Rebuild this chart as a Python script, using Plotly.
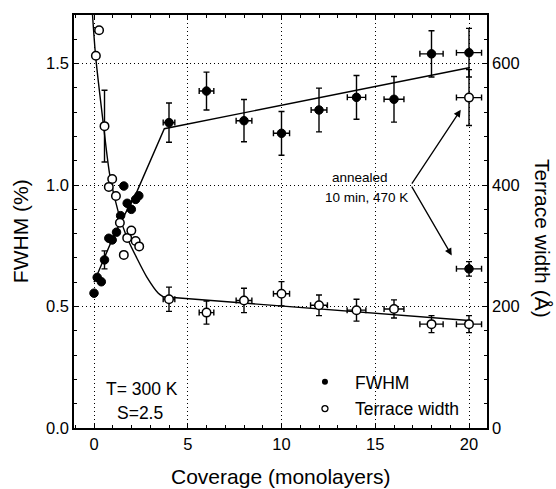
import plotly.graph_objects as go

# ---------------- data ----------------
# FWHM (%) vs coverage (monolayers), as grown at 300 K
fwhm_x = [0.0, 0.17, 0.39, 0.56, 0.79, 0.97, 1.2, 1.42, 1.59, 1.77, 1.99, 2.22, 2.39,
          4.0, 6.0, 8.0, 10.0, 12.0, 14.0, 16.0, 18.0, 20.0]
fwhm_y = [0.555, 0.620, 0.602, 0.692, 0.781, 0.774, 0.806, 0.874, 0.996, 0.925, 0.900, 0.941, 0.956,
          1.257, 1.387, 1.265, 1.213, 1.309, 1.361, 1.353, 1.540, 1.545]
fwhm_yerr = [0, 0, 0, 0.037, 0, 0, 0, 0, 0, 0, 0, 0, 0,
             0.081, 0.078, 0.087, 0.090, 0.090, 0.090, 0.094, 0.095, 0.100]
fwhm_xerr = [0, 0, 0, 0, 0, 0, 0, 0, 0, 0, 0, 0, 0,
             0.31, 0.39, 0.42, 0.43, 0.42, 0.49, 0.53, 0.62, 0.67]

# Terrace width (Angstrom) vs coverage
terr_x = [0.27, 0.1, 0.56, 0.97, 0.79, 1.17, 1.38, 1.59, 1.77, 1.99, 2.22, 2.41,
          4.0, 6.0, 8.0, 10.0, 12.0, 14.0, 16.0, 18.0, 20.0]
terr_y = [655, 613, 497, 410, 397, 382, 338, 285, 313, 325, 308, 299,
          212, 190, 210, 221, 202, 194, 196, 171, 171]
terr_yerr = [0, 0, 59, 0, 0, 0, 0, 0, 0, 0, 0, 0,
             20, 19, 20, 20, 17, 18, 15, 14, 14]
terr_xerr = [0, 0, 0, 0, 0, 0, 0, 0, 0, 0, 0, 0,
             0.31, 0.39, 0.42, 0.43, 0.45, 0.50, 0.53, 0.62, 0.67]

# after annealing 10 min at 470 K (20 ML)
ann_x = [20.0]
ann_fwhm = [0.655]
ann_fwhm_err = [0.03]
ann_terr = [544]
ann_terr_err = [46]
ann_xerr = [0.67]

# guide-to-the-eye curves
fwhm_fit_x = [0.0, 1.1, 2.3, 3.75, 20.0]
fwhm_fit_y = [0.60, 0.80, 0.975, 1.232, 1.483]
terr_curve_x = [-0.1, 0.09, 0.5, 0.85, 1.3, 1.74, 2.28, 2.81, 3.43, 3.7]
terr_curve_y = [690, 611, 500, 415, 355, 315, 280, 249, 222, 216]
terr_line_x = [3.7, 20.0]
terr_line_y = [216, 177]

# axis ticks
x_ticks = [0, 5, 10, 15, 20]
y_ticks = [0.0, 0.5, 1.0, 1.5]
y2_ticks = [0, 200, 400, 600]

FONT = "Liberation Sans, Arial, sans-serif"
BLACK = "black"

fig = go.Figure()

# fitted lines
fig.add_trace(go.Scatter(x=fwhm_fit_x, y=fwhm_fit_y, mode="lines",
                         line=dict(color=BLACK, width=1.4), showlegend=False, hoverinfo="skip"))
fig.add_trace(go.Scatter(x=terr_curve_x, y=terr_curve_y, yaxis="y2", mode="lines",
                         line=dict(color=BLACK, width=1.4, shape="spline", smoothing=0.8),
                         showlegend=False, hoverinfo="skip"))
fig.add_trace(go.Scatter(x=terr_line_x, y=terr_line_y, yaxis="y2", mode="lines",
                         line=dict(color=BLACK, width=1.4), showlegend=False, hoverinfo="skip"))

eb = dict(type="data", color=BLACK, thickness=1.4, width=3)

# FWHM data
fig.add_trace(go.Scatter(
    x=fwhm_x, y=fwhm_y, mode="markers",
    marker=dict(symbol="circle", size=8.5, color=BLACK, line=dict(color=BLACK, width=1)),
    error_y=dict(array=fwhm_yerr, **eb), error_x=dict(array=fwhm_xerr, **eb),
    showlegend=False))
fig.add_trace(go.Scatter(
    x=ann_x, y=ann_fwhm, mode="markers",
    marker=dict(symbol="circle", size=8.5, color=BLACK, line=dict(color=BLACK, width=1)),
    error_y=dict(array=ann_fwhm_err, **eb), error_x=dict(array=ann_xerr, **eb),
    showlegend=False))

# Terrace width data
fig.add_trace(go.Scatter(
    x=terr_x, y=terr_y, yaxis="y2", mode="markers",
    marker=dict(symbol="circle", size=8.5, color="white", line=dict(color=BLACK, width=1.5)),
    error_y=dict(array=terr_yerr, **eb), error_x=dict(array=terr_xerr, **eb),
    showlegend=False))
fig.add_trace(go.Scatter(
    x=ann_x, y=ann_terr, yaxis="y2", mode="markers",
    marker=dict(symbol="circle", size=8.5, color="white", line=dict(color=BLACK, width=1.5)),
    error_y=dict(array=ann_terr_err, **eb), error_x=dict(array=ann_xerr, **eb),
    showlegend=False))

# legend entries
fig.add_trace(go.Scatter(x=[None], y=[None], mode="markers", name="FWHM", legendgroup="a",
                         marker=dict(symbol="circle", size=6, color=BLACK)))
fig.add_trace(go.Scatter(x=[None], y=[None], mode="markers", name="Terrace width", legendgroup="b",
                         marker=dict(symbol="circle", size=6, color="white",
                                     line=dict(color=BLACK, width=1.3))))

axis_common = dict(
    showline=True, linecolor=BLACK, linewidth=1.5,
    ticks="inside", tickcolor=BLACK, tickwidth=1.2, ticklen=5,
    tickfont=dict(family=FONT, size=16.5, color=BLACK),
    zeroline=False,
)

fig.update_layout(
    width=556, height=489,
    margin=dict(l=74, r=69, t=15, b=61),
    paper_bgcolor="white", plot_bgcolor="white",
    xaxis=dict(range=[-1.067, 20.96], tickvals=x_ticks, ticktext=[str(v) for v in x_ticks],
               mirror="ticks", showgrid=True, gridcolor=BLACK, gridwidth=1, griddash="1px,3px",
               minor=dict(dtick=1, tick0=0, ticks="inside", ticklen=3, tickcolor=BLACK, showgrid=False),
               **axis_common),
    yaxis=dict(range=[0, 1.7], tickvals=y_ticks, ticktext=["%.1f" % v for v in y_ticks],
               showgrid=True, gridcolor=BLACK, gridwidth=1, griddash="1px,3px",
               minor=dict(dtick=0.1, tick0=0, ticks="inside", ticklen=3, tickcolor=BLACK, showgrid=False),
               **axis_common),
    yaxis2=dict(range=[0, 680], overlaying="y", side="right", tickvals=y2_ticks,
                ticktext=[str(v) for v in y2_ticks], showgrid=False,
                minor=dict(dtick=40, tick0=0, ticks="inside", ticklen=3, tickcolor=BLACK, showgrid=False),
                **axis_common),
    legend=dict(x=0.535, y=0.155, xanchor="left", yanchor="top", bgcolor="rgba(0,0,0,0)",
                font=dict(family=FONT, size=17.5, color=BLACK), itemwidth=50, tracegroupgap=1),
    font=dict(family=FONT, color=BLACK),
)

title_font = dict(family=FONT, size=21, color=BLACK)
annotations = [
    dict(text="Coverage (monolayers)", xref="paper", yref="paper", x=0.501, y=-0.1186,
         xanchor="center", yanchor="middle", showarrow=False, font=title_font),
    dict(text="FWHM (%)", xref="paper", yref="paper", x=-0.128, y=0.477, textangle=-90,
         xanchor="center", yanchor="middle", showarrow=False, font=title_font),
    dict(text="Terrace width (Å)", xref="paper", yref="paper", x=1.133, y=0.458, textangle=90,
         xanchor="center", yanchor="middle", showarrow=False, font=title_font),
    dict(text="T= 300 K", xref="x", yref="y", x=2.56, y=0.161, xanchor="center", yanchor="middle",
         showarrow=False, font=dict(family=FONT, size=17.5, color=BLACK)),
    dict(text="S=2.5", xref="x", yref="y", x=2.45, y=0.062, xanchor="center", yanchor="middle",
         showarrow=False, font=dict(family=FONT, size=17.5, color=BLACK)),
    dict(text="annealed", xref="x", yref="y", x=14.16, y=1.033, xanchor="center", yanchor="middle",
         showarrow=False, font=dict(family=FONT, size=13.5, color=BLACK)),
    dict(text="10 min, 470 K", xref="x", yref="y", x=14.53, y=0.947, xanchor="center", yanchor="middle",
         showarrow=False, font=dict(family=FONT, size=13.5, color=BLACK)),
    # arrows
    dict(text="", xref="x", yref="y2", x=19.56, y=524, axref="x", ayref="y2", ax=16.9, ay=400,
         showarrow=True, arrowhead=2, arrowsize=1.1, arrowwidth=1.3, arrowcolor=BLACK),
    dict(text="", xref="x", yref="y", x=19.08, y=0.71, axref="x", ayref="y", ax=16.9, ay=1.0,
         showarrow=True, arrowhead=2, arrowsize=1.1, arrowwidth=1.3, arrowcolor=BLACK),
]
fig.update_layout(annotations=annotations)

fig.write_html("out.html")
